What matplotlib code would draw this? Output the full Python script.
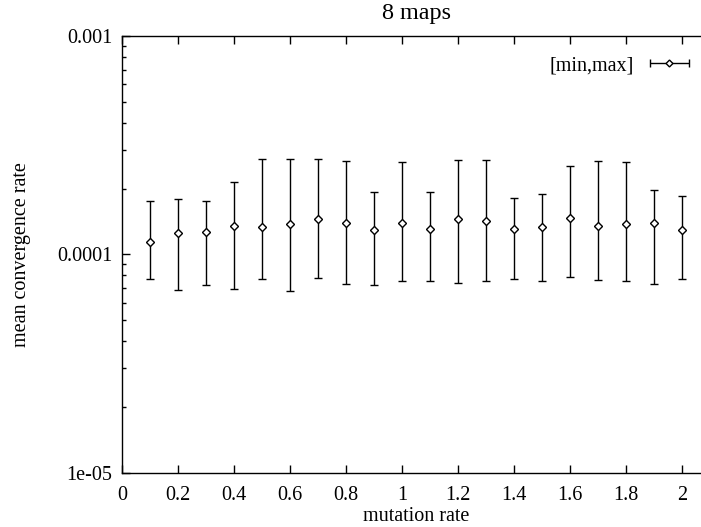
import numpy as np
import matplotlib
matplotlib.use("Agg")
import matplotlib.pyplot as plt
from matplotlib.ticker import FixedLocator, LogLocator, NullFormatter
from matplotlib.legend_handler import HandlerErrorbar

# values (gnuplot style log plot)
rates = [0.1, 0.2, 0.3, 0.4, 0.5, 0.6, 0.7, 0.8, 0.9, 1.0,
         1.1, 1.2, 1.3, 1.4, 1.5, 1.6, 1.7, 1.8, 1.9, 2.0]
mean_conv = [1.135e-4, 1.252e-4, 1.261e-4, 1.348e-4, 1.334e-4, 1.373e-4, 1.447e-4,
             1.387e-4, 1.288e-4, 1.392e-4, 1.306e-4, 1.457e-4, 1.417e-4, 1.302e-4,
             1.334e-4, 1.472e-4, 1.344e-4, 1.373e-4, 1.392e-4, 1.293e-4]
max_conv = [1.756e-4, 1.788e-4, 1.750e-4, 2.146e-4, 2.729e-4, 2.737e-4, 2.729e-4,
            2.688e-4, 1.931e-4, 2.660e-4, 1.931e-4, 2.708e-4, 2.699e-4, 1.813e-4,
            1.885e-4, 2.550e-4, 2.679e-4, 2.642e-4, 1.972e-4, 1.857e-4]
min_conv = [0.770e-4, 0.684e-4, 0.723e-4, 0.693e-4, 0.770e-4, 0.681e-4, 0.781e-4,
            0.729e-4, 0.723e-4, 0.757e-4, 0.757e-4, 0.739e-4, 0.754e-4, 0.768e-4,
            0.754e-4, 0.787e-4, 0.765e-4, 0.752e-4, 0.733e-4, 0.773e-4]

xticks = [0, 0.2, 0.4, 0.6, 0.8, 1, 1.2, 1.4, 1.6, 1.8, 2]
xtick_labels = ["0", "0.2", "0.4", "0.6", "0.8", "1", "1.2", "1.4", "1.6", "1.8", "2"]
yticks = [1e-5, 1e-4, 1e-3]
ytick_labels = ["1e-05", "0.0001", "0.001"]

plt.rcParams["font.family"] = ["Liberation Serif", "DejaVu Serif"]
plt.rcParams["font.size"] = 14.5

fig = plt.figure(figsize=(7.01, 5.27), dpi=100)
ax = fig.add_axes([122 / 701, 1 - 472.5 / 527, 588 / 701, (472.5 - 36) / 527])

mean_arr = np.array(mean_conv)
yerr = [mean_arr - np.array(min_conv), np.array(max_conv) - mean_arr]
ax.errorbar(rates, mean_conv, yerr=yerr, fmt="D", color="black", ecolor="black",
            markersize=4, markerfacecolor="white", markeredgewidth=1,
            elinewidth=1, capsize=3, capthick=1)

# dummy entry so the legend sample looks like gnuplot's horizontal bar
dummy = ax.errorbar([np.nan], [np.nan], xerr=[[0.1], [0.1]], fmt="D", color="black",
                    markersize=3.5, markerfacecolor="white", markeredgewidth=1,
                    elinewidth=1, capsize=3, capthick=1, label="[min,max]")

ax.set_yscale("log")
ax.set_xlim(0, 2.1)
ax.set_ylim(1e-5, 1e-3)

ax.xaxis.set_major_locator(FixedLocator(xticks))
ax.set_xticklabels(xtick_labels)
ax.yaxis.set_major_locator(FixedLocator(yticks))
ax.set_yticklabels(ytick_labels)
ax.yaxis.set_minor_locator(LogLocator(base=10, subs=np.arange(2, 10)))
ax.yaxis.set_minor_formatter(NullFormatter())

ax.tick_params(which="both", direction="in", top=True, right=True, width=1)
ax.tick_params(which="major", length=6)
ax.tick_params(axis="x", which="major", pad=10)
ax.tick_params(axis="y", which="major", pad=7)
ax.tick_params(which="minor", length=3)
for sp in ax.spines.values():
    sp.set_linewidth(1)

ax.set_title("8 maps", pad=12)
ax.set_xlabel("mutation rate", labelpad=1)
ax.set_ylabel("mean convergence rate", labelpad=19)

leg = ax.legend(loc="upper right", markerfirst=False, frameon=False,
                bbox_to_anchor=(0.996, 0.995), handlelength=2.0, handletextpad=0.75,
                handler_map={dummy: HandlerErrorbar(xerr_size=0.95)})

fig.savefig("out.png", dpi=100)
